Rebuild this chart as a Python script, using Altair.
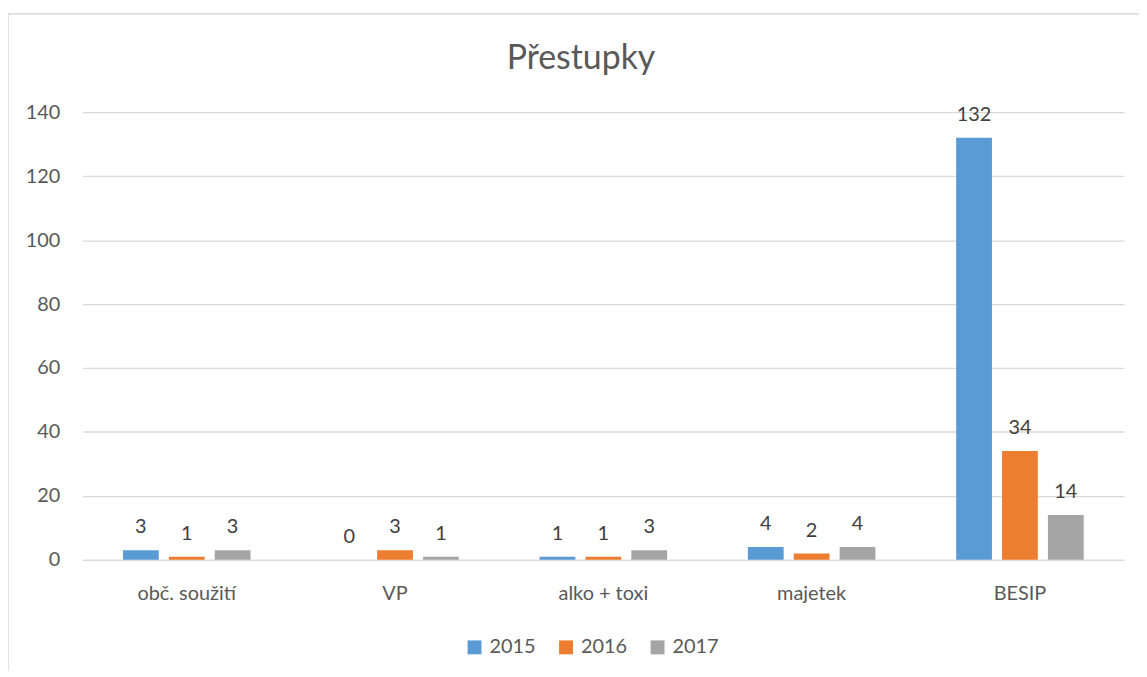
import altair as alt
import pandas as pd

categories = ["obč. soužití", "VP", "alko + toxi", "majetek", "BESIP"]
years = ["2015", "2016", "2017"]
v2015 = [3, 0, 1, 4, 132]
v2016 = [1, 3, 1, 2, 34]
v2017 = [3, 1, 3, 4, 14]
colors = ["#5B9BD5", "#ED7D31", "#A5A5A5"]
y_ticks = [0, 20, 40, 60, 80, 100, 120, 140]
title_text = "Přestupky"

rows = []
for yr, vals in zip(years, [v2015, v2016, v2017]):
    for c, v in zip(categories, vals):
        rows.append({"cat": c, "year": yr, "value": v})
df = pd.DataFrame(rows)

FONT = "Lato"
GREY = "#595959"

x = alt.X("cat:N", sort=categories, title=None,
          scale=alt.Scale(paddingInner=0, paddingOuter=0),
          axis=alt.Axis(labelAngle=0, labelFontSize=20, labelFont=FONT, labelColor=GREY,
                        labelPadding=24, ticks=False, domainColor="#D9D9D9", domainWidth=1.3))
xo = alt.XOffset("year:N", sort=years, scale=alt.Scale(paddingInner=0.22, paddingOuter=0.88))
y = alt.Y("value:Q", title=None,
          scale=alt.Scale(domain=[0, 140], nice=False),
          axis=alt.Axis(values=y_ticks, labelFontSize=20, labelFont=FONT, labelColor=GREY,
                        labelPadding=23, ticks=False, domain=False,
                        gridColor="#D9D9D9", gridWidth=1.3))

base = alt.Chart(df)
bars = base.mark_bar().encode(
    x=x, xOffset=xo, y=y,
    color=alt.Color("year:N", sort=years, scale=alt.Scale(domain=years, range=colors),
                    legend=alt.Legend(title=None, orient="none", direction="horizontal",
                                      legendX=384, legendY=528, symbolType="square",
                                      symbolSize=196, symbolStrokeWidth=0,
                                      labelFontSize=20, labelFont=FONT, labelColor=GREY,
                                      labelOffset=5, columnPadding=20)),
)
labels = base.mark_text(baseline="middle", align="center", dy=-23, fontSize=20,
                        font=FONT, color="#404040").encode(
    x=x, xOffset=xo, y=y, text=alt.Text("value:Q"))

deco = alt.Chart(alt.Data(values=[{"t": title_text}]))
left_border = deco.mark_rule(color="#D9D9D9", strokeWidth=1.5).encode(
    x=alt.value(-75), y=alt.value(-99), y2=alt.value(600))
top_border = deco.mark_rule(color="#D9D9D9", strokeWidth=1.5).encode(
    x=alt.value(-75), x2=alt.value(1100), y=alt.value(-99))
title = deco.mark_text(fontSize=34, font=FONT, color=GREY, align="center",
                       baseline="middle").encode(
    x=alt.value(501), y=alt.value(-53), text="t:N")

chart = alt.layer(left_border, top_border, bars, labels, title).properties(
    width=1047, height=450,
    autosize=alt.AutoSizeParams(type="none"),
    padding={"left": 75, "top": 103, "right": 15, "bottom": 110},
).configure_view(stroke=None)

chart.save("out.html", embed_options={"renderer": "svg", "actions": False})
